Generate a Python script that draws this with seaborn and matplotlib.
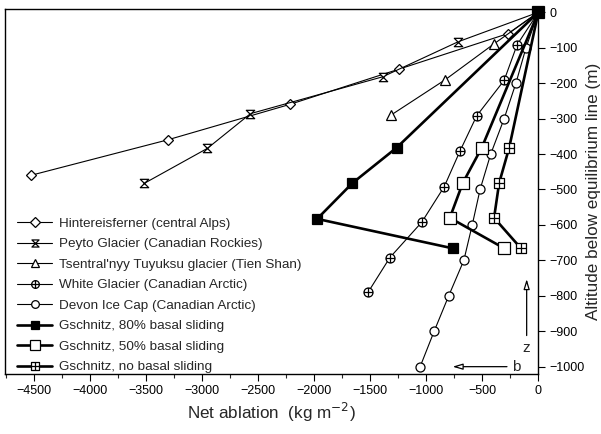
import numpy as np
import matplotlib
matplotlib.use("Agg")
import matplotlib.pyplot as plt
from matplotlib.path import Path
import seaborn as sns
import pandas as pd

# ---- data ----
hint_x = [0, -270, -1240, -2220, -3310, -4530]
hint_y = [0, -60, -160, -260, -360, -460]
peyto_x = [0, -715, -1390, -2570, -2955, -3520]
peyto_y = [0, -83, -182, -286, -384, -483]
tsen_x = [0, -400, -830, -1315]
tsen_y = [0, -90, -190, -290]
white_x = [0, -190, -305, -550, -700, -840, -1040, -1325, -1520]
white_y = [0, -92, -192, -292, -392, -492, -592, -692, -790]
devon_x = [0, -110, -200, -305, -425, -520, -590, -665, -800, -930, -1055]
devon_y = [0, -100, -200, -300, -400, -500, -600, -700, -800, -900, -1000]
g80_x = [0, -1265, -1660, -1975, -765]
g80_y = [0, -382, -482, -583, -666]
g50_x = [0, -505, -675, -790, -305]
g50_y = [0, -382, -482, -580, -666]
g0_x = [0, -260, -350, -395, -155]
g0_y = [0, -382, -482, -580, -666]

labels = ["Hintereisferner (central Alps)",
          "Peyto Glacier (Canadian Rockies)",
          "Tsentral'nyy Tuyuksu glacier (Tien Shan)",
          "White Glacier (Canadian Arctic)",
          "Devon Ice Cap (Canadian Arctic)",
          "Gschnitz, 80% basal sliding",
          "Gschnitz, 50% basal sliding",
          "Gschnitz, no basal sliding"]

sns.set_theme(style="white")
plt.rcParams['font.family'] = ['Liberation Sans', 'DejaVu Sans']

# custom markers
hourglass = Path([(-1, 1), (1, 1), (-1, -1), (1, -1), (-1, 1)],
                 [Path.MOVETO, Path.LINETO, Path.LINETO, Path.LINETO, Path.CLOSEPOLY])
circ = Path.unit_circle()
cross = Path([(-1, 0), (1, 0), (0, -1), (0, 1)],
             [Path.MOVETO, Path.LINETO, Path.MOVETO, Path.LINETO])
circ_plus = Path.make_compound_path(circ, cross)
sq = Path([(-1, -1), (1, -1), (1, 1), (-1, 1), (-1, -1)],
          [Path.MOVETO, Path.LINETO, Path.LINETO, Path.LINETO, Path.CLOSEPOLY])
sq_plus = Path.make_compound_path(sq, cross)

fig = plt.figure(figsize=(6.01, 4.34), dpi=100)
ax = fig.add_axes([0.0083, 0.138, 0.8874, 0.841])

series = [
    (hint_x, hint_y, "D", 0.8, 5.5, "white", 3),
    (peyto_x, peyto_y, hourglass, 0.8, 6, "white", 3),
    (tsen_x, tsen_y, "^", 0.8, 6.5, "white", 3),
    (white_x, white_y, circ_plus, 0.8, 6.5, "white", 3),
    (devon_x, devon_y, "o", 0.8, 6.5, "white", 3),
    (g80_x, g80_y, "s", 1.9, 6.5, "black", 5),
    (g50_x, g50_y, "s", 1.9, 8, "white", 4),
    (g0_x, g0_y, sq_plus, 1.9, 7, "white", 4),
]

for (xs, ys, mk, lw, ms, fc, z), lab in zip(series, labels):
    df = pd.DataFrame({"x": xs, "y": ys})
    sns.lineplot(data=df, x="x", y="y", sort=False, estimator=None, ax=ax,
                 color="black", lw=lw, marker=mk, markersize=ms,
                 markerfacecolor=fc, markeredgecolor="black", markeredgewidth=0.9,
                 label=lab, clip_on=False, zorder=z)

ax.set_xlim(-4762, 0)
ax.set_ylim(-1021, 9)
ax.set_xticks(np.arange(-4500, 1, 500))
ax.set_xticks(np.arange(-4750, 1, 250), minor=True)
ax.set_yticks(np.arange(-1000, 1, 100))
ax.yaxis.tick_right()
ax.yaxis.set_label_position("right")
ax.tick_params(axis="x", which="major", direction="out", length=5, width=0.8,
               bottom=True, labelsize=9, pad=3, colors="black")
ax.tick_params(axis="x", which="minor", direction="out", length=3, width=0.8, bottom=True)
ax.tick_params(axis="y", which="major", direction="out", length=5, width=0.8,
               right=True, left=False, labelsize=9, pad=3, colors="black")
for s in ax.spines.values():
    s.set_color("black")
    s.set_linewidth(1.0)

ax.set_xlabel("Net ablation  (kg m$^{-2}$)", fontsize=12.3, labelpad=3)
ax.set_ylabel("Altitude below equilibrium line (m)", fontsize=12.3, labelpad=1)

leg = ax.legend(loc="lower left", bbox_to_anchor=(0.022, 0.0), frameon=False,
                fontsize=9.7, handlelength=2.6, handletextpad=0.5,
                labelspacing=0.6, borderaxespad=0.0, borderpad=0.05,
                markerscale=0.85)

# annotation arrows
ax.annotate("", xy=(-104, -745), xytext=(-104, -920),
            arrowprops=dict(arrowstyle="-|>,head_length=0.5,head_width=0.15",
                            color="black", lw=0.9, fc="white"))
ax.text(-104, -948, "z", ha="center", va="center", fontsize=11)
ax.annotate("", xy=(-790, -1000), xytext=(-255, -1000),
            arrowprops=dict(arrowstyle="-|>,head_length=0.5,head_width=0.15",
                            color="black", lw=0.9, fc="white"))
ax.text(-195, -1000, "b", ha="center", va="center", fontsize=11)

fig.savefig("out.png", dpi=100)
